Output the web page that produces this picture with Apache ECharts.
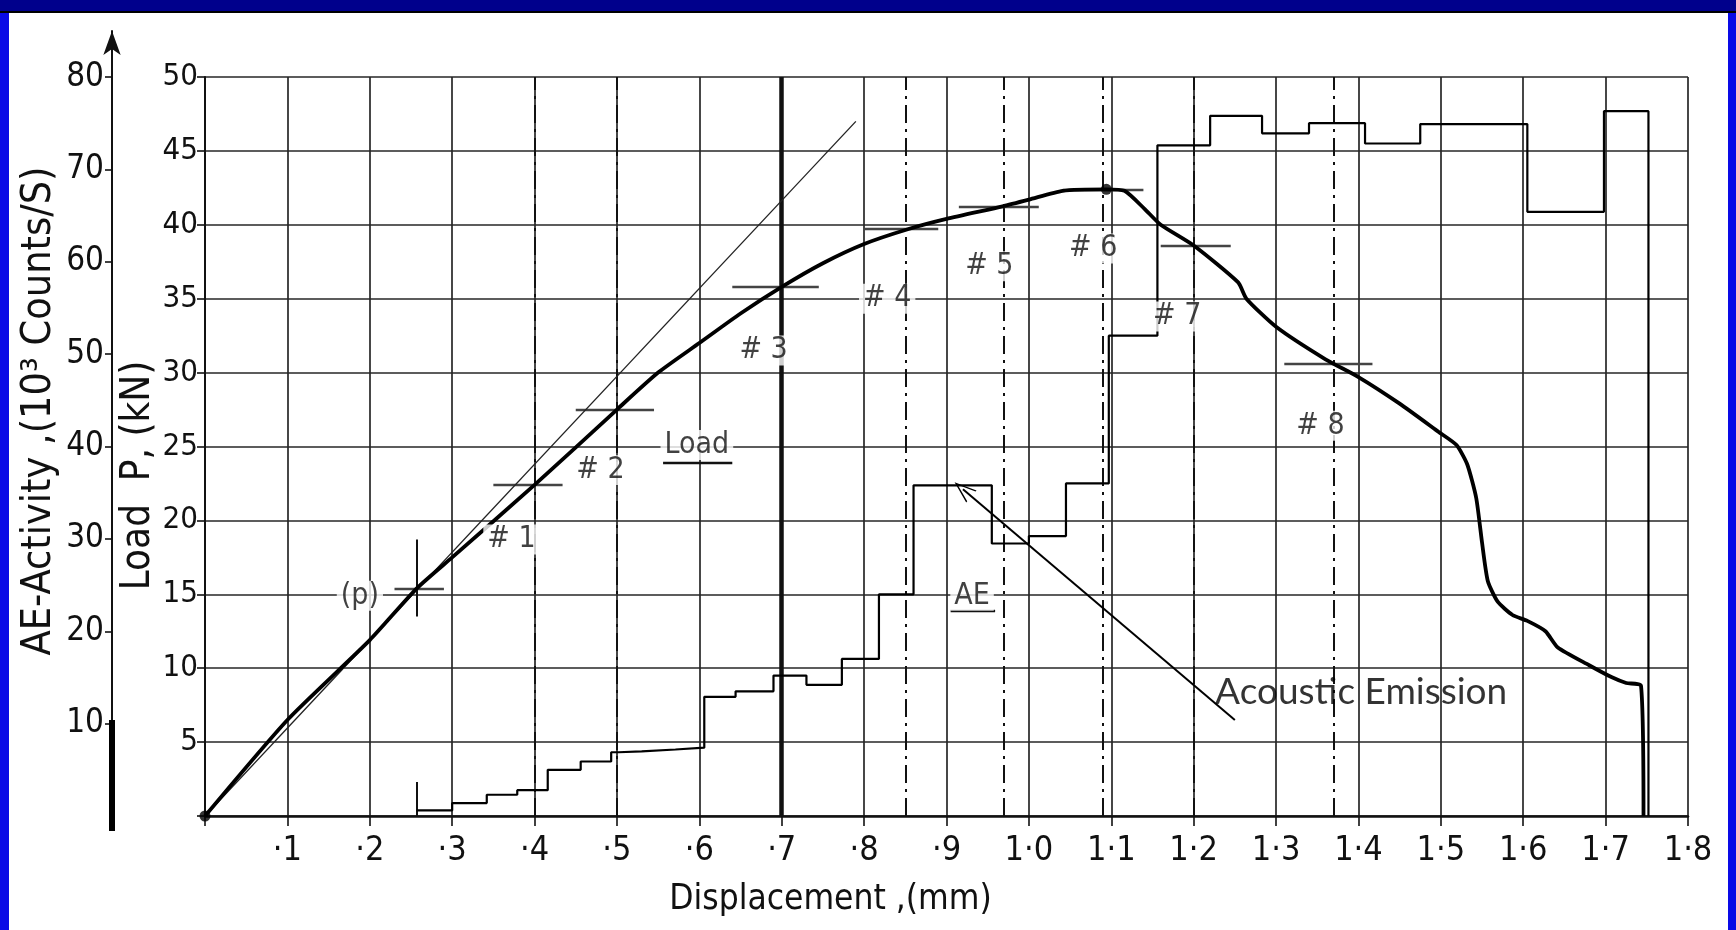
<!DOCTYPE html>
<html><head><meta charset="utf-8">
<script src="https://cdn.jsdelivr.net/npm/echarts@6/dist/echarts.min.js"></script>
<style>
html,body{margin:0;padding:0;width:1736px;height:930px;overflow:hidden;background:#0a0ae6;}
#top{position:absolute;left:0;top:0;width:1736px;height:11px;background:#00008c;}
#topline{position:absolute;left:0;top:11px;width:1736px;height:2px;background:#000;}
#panel{position:absolute;left:9px;top:13px;width:1719px;height:917px;background:#fff;}
#chart{position:absolute;left:0;top:0;width:1736px;height:930px;}
</style></head><body>
<div id="top"></div><div id="topline"></div><div id="panel"></div><div id="chart"></div>
<script>
// ---------------- data ----------------
const xTickLabels = ['', '·1','·2','·3','·4','·5','·6','·7','·8','·9','1·0','1·1','1·2','1·3','1·4','1·5','1·6','1·7','1·8'];
const aeTickValues = [10,20,30,40,50,60,70,80];

// Load curve: displacement (mm) / load P (kN)
const loadDisp = [0, 0.1, 0.2, 0.257, 0.3, 0.4, 0.5, 0.55, 0.6, 0.65, 0.7, 0.75, 0.8, 0.853, 0.9, 0.968, 1.0, 1.041, 1.094, 1.116, 1.14, 1.16, 1.2, 1.254, 1.264, 1.3, 1.36, 1.4, 1.45, 1.497, 1.519, 1.532, 1.543, 1.55, 1.557, 1.569, 1.587, 1.605, 1.627, 1.642, 1.68, 1.707, 1.725, 1.743, 1.746];
const loadKN   = [0, 6.5, 11.9, 15.4, 17.5, 22.4, 27.5, 30.0, 32.0, 34.0, 35.8, 37.4, 38.7, 39.7, 40.4, 41.25, 41.7, 42.3, 42.4, 42.3, 41.1, 40.0, 38.6, 36.1, 35.0, 33.1, 30.9, 29.7, 27.9, 26.0, 25.1, 23.8, 21.5, 18.5, 15.9, 14.5, 13.6, 13.2, 12.5, 11.4, 10.2, 9.4, 9.0, 8.8, 0];

// Initial tangent (thin line)
const tangentDisp = [0, 0.79];
const tangentKN   = [0, 47.0];

// AE activity staircase: each level holds from aeDisp[i] to aeDisp[i+1] (10^3 counts/s)
const aeDisp   = [0.257, 0.3, 0.342, 0.379, 0.416, 0.456, 0.493, 0.502, 0.53, 0.571, 0.606, 0.644, 0.69, 0.73, 0.773, 0.818, 0.86, 0.955, 1.0, 1.045, 1.097, 1.156, 1.22, 1.283, 1.34, 1.408, 1.475, 1.605, 1.698, 1.752];
const aeCounts = [0.6, 1.4, 2.3, 2.8, 5.0, 5.9, 6.9, 7.0, 7.2, 7.4, 12.9, 13.5, 15.2, 14.2, 17.0, 24.0, 35.8, 29.5, 30.3, 36.0, 52.0, 72.6, 75.8, 73.9, 75.0, 72.8, 74.9, 65.4, 76.3, 0];

// Marked points on the load curve
const markNames = ['(p)', '# 1', '# 2', '# 3', '# 4', '# 5', '# 6', '# 7', '# 8'];
const markDisp  = [0.257, 0.4, 0.498, 0.698, 0.853, 0.968, 1.094, 1.2, 1.366];
const markLoad  = [15.4, 22.4, 27.5, 35.8, 39.7, 41.25, 42.4, 38.6, 30.6];
const markFrom  = [0.23, 0.35, 0.45, 0.64, 0.80, 0.915, 1.041, 1.16, 1.31];
const markTo    = [0.29, 0.434, 0.545, 0.745, 0.89, 1.012, 1.139, 1.245, 1.417];
const markLabelDisp = [0.188, 0.372, 0.48, 0.678, 0.828, 0.952, 1.078, 1.18, 1.354];
const markLabelLoad = [14.9, 18.7, 23.4, 31.5, 35.0, 37.2, 38.4, 33.8, 26.4];
const dashLineDisp  = [0.4, 0.498, 0.853, 0.968, 1.094, 1.196, 1.366];
const boldLineDisp  = [0.7];

// Curve names (underlined)
const curveNames = ['Load', 'AE'];
const curveNameDisp = [0.597, 0.931];
const curveNameLoad = [25.1, 14.9];
const underlineFrom = [0.556, 0.905];
const underlineTo   = [0.64, 0.959];
const underlineLoad = [23.9, 13.9];

// Annotation
const noteText = 'Acoustic Emission';
const noteDisp = 1.226, noteLoad = 8.4;
const arrowFrom = [1.25, 6.5], arrowTo = [0.92, 22.1];

// ---------------- chart ----------------
const F = "'Liberation Sans Narrow','DejaVu Sans Condensed','Roboto Condensed','Arial Narrow','DejaVu Sans',sans-serif";
const INK = '#111';
const GRIDC = '#262626';
const pairs = (xs, ys) => xs.map((x, i) => [x, ys[i]]);

const gridTop = 77, gridBottomY = 816, arrowTipY = 31;
const aeAxisTop = 80 * (gridBottomY - arrowTipY) / (gridBottomY - gridTop);

const markLineData = [];
dashLineDisp.forEach(v => markLineData.push({xAxis: v, lineStyle: {type: [18, 6, 3, 6], width: 2, color: INK}}));
boldLineDisp.forEach(v => markLineData.push({xAxis: v, lineStyle: {type: 'solid', width: 4.5, color: INK}}));
markDisp.forEach((x, i) => markLineData.push([
  {coord: [markFrom[i], markLoad[i]], lineStyle: {type: 'solid', width: 2.4, color: '#444'}},
  {coord: [markTo[i], markLoad[i]]}
]));
// short vertical strokes at (p) and at start of AE record
markLineData.push([{coord: [markDisp[0], 13.5], lineStyle: {type: 'solid', width: 2, color: INK}}, {coord: [markDisp[0], 18.7]}]);
markLineData.push([{coord: [aeDisp[0], 0], lineStyle: {type: 'solid', width: 2, color: INK}}, {coord: [aeDisp[0], 2.3]}]);
underlineFrom.forEach((x, i) => markLineData.push([
  {coord: [x, underlineLoad[i]], lineStyle: {type: 'solid', width: 2.4, color: INK}},
  {coord: [underlineTo[i], underlineLoad[i]]}
]));
// annotation arrow
markLineData.push([
  {coord: arrowFrom, symbol: 'none', lineStyle: {type: 'solid', width: 2, color: '#000'}},
  {coord: arrowTo, symbol: 'path://M0,22 L10,0 L20,22 L18,22 L10,4 L2,22 Z', symbolSize: [16, 22]}
]);

const labelData = markNames.map((n, i) => [markLabelDisp[i], markLabelLoad[i], n])
  .concat(curveNames.map((n, i) => [curveNameDisp[i], curveNameLoad[i], n]));

const option = {
  animation: false,
  backgroundColor: 'transparent',
  grid: [
    {left: 205, right: 48, top: gridTop, bottom: 930 - gridBottomY},
    {left: 112, width: 1, top: arrowTipY, bottom: 930 - gridBottomY}
  ],
  xAxis: [
    {gridIndex: 0, type: 'value', min: 0, max: 1.8, interval: 0.1,
     axisLine: {lineStyle: {color: INK, width: 2.5}},
     axisTick: {show: true, length: 10, lineStyle: {color: INK, width: 1.6}},
     axisLabel: {formatter: v => xTickLabels[Math.round(v * 10)] || '', fontSize: 34, color: INK, margin: 18, fontFamily: F},
     splitLine: {show: true, lineStyle: {color: GRIDC, width: 1.7}},
     name: 'Displacement ,(mm)', nameLocation: 'middle', nameGap: 66, nameMoveOverlap: false,
     nameTextStyle: {fontSize: 35, color: INK, fontFamily: F, padding: [0, 232, 0, 0]}},
    {gridIndex: 1, type: 'value', min: 0, max: 1, show: false}
  ],
  yAxis: [
    {gridIndex: 0, type: 'value', min: 0, max: 50, interval: 5, position: 'left',
     axisLine: {show: true, lineStyle: {color: INK, width: 2}},
     axisTick: {show: true, length: 8, lineStyle: {color: INK, width: 1.6}},
     axisLabel: {fontSize: 31, color: INK, margin: 7, fontFamily: F, formatter: v => v === 0 ? '' : String(v)},
     splitLine: {show: true, lineStyle: {color: GRIDC, width: 1.7}},
     name: 'Load  P, (kN)', nameLocation: 'middle', nameGap: 46, nameMoveOverlap: false,
     nameTextStyle: {fontSize: 40, color: INK, fontFamily: F, padding: [0, 58, 0, 0]}},
    {gridIndex: 0, type: 'value', min: 0, max: 80, show: false},
    {gridIndex: 1, type: 'value', min: 0, max: aeAxisTop, interval: 10, position: 'left',
     axisLine: {show: true, symbol: ['none', 'arrow'], symbolSize: [13, 24], lineStyle: {color: INK, width: 2}},
     axisTick: {show: true, customValues: aeTickValues, length: 7, lineStyle: {color: INK, width: 1.6}},
     axisLabel: {customValues: aeTickValues, fontSize: 33, color: INK, margin: 8, fontFamily: F},
     splitLine: {show: false},
     name: 'AE-Activity ,(10³ Counts/S)', nameLocation: 'middle', nameGap: 52, nameMoveOverlap: false,
     nameTextStyle: {fontSize: 41, color: INK, fontFamily: F, padding: [0, 0, 0, 25]}}
  ],
  series: [
    {type: 'line', name: 'Tangent', xAxisIndex: 0, yAxisIndex: 0, data: pairs(tangentDisp, tangentKN),
     showSymbol: false, lineStyle: {color: '#222', width: 1.3}, z: 3, silent: true},
    {type: 'line', name: 'AE', xAxisIndex: 0, yAxisIndex: 1, data: pairs(aeDisp, aeCounts), step: 'end',
     showSymbol: false, lineStyle: {color: '#000', width: 2.2}, z: 4, silent: true},
    {type: 'line', name: 'Load', xAxisIndex: 0, yAxisIndex: 0, data: pairs(loadDisp, loadKN),
     smooth: 0.2,
     showSymbol: false, lineStyle: {color: '#000', width: 3.8}, z: 5, silent: true,
     markLine: {silent: true, symbol: ['none', 'none'], label: {show: false}, animation: false, z: 2,
                data: markLineData}},
    {type: 'scatter', xAxisIndex: 0, yAxisIndex: 0, data: [[0, 0], [markDisp[6], markLoad[6]]],
     symbolSize: 11, itemStyle: {color: '#000'}, z: 6, silent: true},
    {type: 'scatter', xAxisIndex: 0, yAxisIndex: 0, data: labelData, symbolSize: 0, z: 7, silent: true,
     label: {show: true, position: 'inside', formatter: p => p.data[2], fontSize: 30, color: INK,
             fontFamily: F, backgroundColor: '#fff', padding: [0, 4]}},
    {type: 'scatter', xAxisIndex: 0, yAxisIndex: 0, data: [[noteDisp, noteLoad, noteText]], symbolSize: 0, z: 8, silent: true,
     label: {show: true, position: 'right', distance: 0, formatter: p => p.data[2], fontSize: 37, color: '#000',
             fontFamily: "'Comic Sans MS','Lato','Noto Sans',sans-serif"}}
  ],
  graphic: [
    {type: 'rect', shape: {x: 109, y: 720, width: 6, height: 111}, style: {fill: '#000'}, z: 10}
  ]
};

const chart = echarts.init(document.getElementById('chart'), null, {renderer: 'canvas'});
chart.setOption(option);
</script></body></html>
